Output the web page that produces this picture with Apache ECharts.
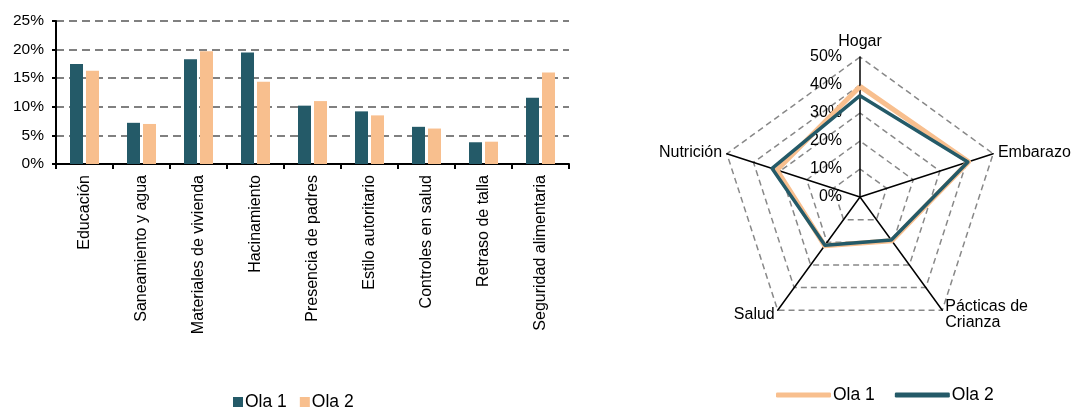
<!DOCTYPE html>
<html><head><meta charset="utf-8">
<script src="https://cdn.jsdelivr.net/npm/echarts@6/dist/echarts.min.js"></script>
<style>html,body{margin:0;padding:0;background:#fff}#c{width:1071px;height:408px}</style>
</head><body><div id="c"></div>
<script>
const categories = ['Educación','Saneamiento y agua','Materiales de vivienda','Hacinamiento','Presencia de padres','Estilo autoritario','Controles en salud','Retraso de talla','Seguridad alimentaria'];
const barOla1 = [17.5, 7.2, 18.3, 19.5, 10.2, 9.2, 6.5, 3.8, 11.6];
const barOla2 = [16.3, 7.0, 19.7, 14.4, 11.0, 8.5, 6.2, 3.9, 16.0];
const radarNames = ['Hogar', 'Nutrición', 'Salud', 'Pácticas de\nCrianza', 'Embarazo'];
const radarOla1 = [39.5, 31.2, 21.5, 19.3, 40.8];
const radarOla2 = [36.2, 33.0, 21.3, 19.0, 40.5];
const seriesNames = ['Ola 1', 'Ola 2'];

const TEAL = '#245A68', PEACH = '#F8BF8E';
const FONT = 'Liberation Sans, Arial, sans-serif';
const chart = echarts.init(document.getElementById('c'), null, {renderer: 'canvas'});
chart.setOption({
  animation: false,
  textStyle: {fontFamily: FONT, color: '#000'},
  grid: {left: 56, right: 502, top: 21, bottom: 244, containLabel: false},
  legend: [{
    left: 228, top: 388, icon: 'rect', itemWidth: 10, itemHeight: 10, itemGap: 13,
    textStyle: {fontSize: 17.5, fontFamily: FONT, color: '#000', padding: [0,0,0,-3]},
    data: [{name: seriesNames[0], itemStyle: {color: TEAL}}, {name: seriesNames[1], itemStyle: {color: PEACH}}]
  }, {
    left: 771, top: 381, icon: 'roundRect', itemWidth: 55, itemHeight: 5, itemGap: 20,
    textStyle: {fontSize: 17.5, fontFamily: FONT, color: '#000', padding: [0,0,0,-3]},
    data: [{name: seriesNames[0], itemStyle: {color: PEACH}}, {name: seriesNames[1], itemStyle: {color: TEAL}}]
  }],
  xAxis: {
    type: 'category', data: categories,
    axisLine: {lineStyle: {color: '#000', width: 2}},
    axisTick: {show: true, length: 5, lineStyle: {color: '#000', width: 2}},
    axisLabel: {rotate: 90, interval: 0, fontSize: 16, color: '#000', fontFamily: FONT, margin: 11}
  },
  yAxis: {
    type: 'value', min: 0, max: 25, interval: 5,
    axisLine: {show: true, lineStyle: {color: '#000', width: 2}},
    axisTick: {show: true, length: 4, lineStyle: {color: '#000', width: 2}},
    axisLabel: {formatter: '{value}%', fontSize: 15.5, color: '#000', fontFamily: FONT, margin: 12},
    splitLine: {lineStyle: {color: '#808080', width: 2, type: [8, 5]}}
  },
  radar: {
    center: [860, 197], radius: 140, startAngle: 90, shape: 'polygon', splitNumber: 5,
    nameGap: 5,
    axisName: {color: '#000', fontSize: 16, fontFamily: FONT},
    axisLine: {lineStyle: {color: '#000', width: 1.5}},
    splitLine: {lineStyle: {color: '#888', width: 1.5, type: [6, 4]}},
    splitArea: {show: false},
    axisLabel: {show: false},
    indicator: radarNames.map((n, i) => i === 0
      ? {name: n, min: 0, max: 50, axisLabel: {show: true, formatter: '{value}%', fontSize: 16, color: '#000', fontFamily: FONT, margin: 18}}
      : {name: n, min: 0, max: 50})
  },
  series: [
    {name: seriesNames[0], type: 'bar', data: barOla1, barWidth: 13, barGap: '23%', itemStyle: {color: TEAL}},
    {name: seriesNames[1], type: 'bar', data: barOla2, barWidth: 13, barGap: '23%', itemStyle: {color: PEACH}},
    {type: 'radar', symbol: 'none', data: [
      {name: seriesNames[0], value: radarOla1, lineStyle: {color: PEACH, width: 5}, itemStyle: {color: PEACH}},
      {name: seriesNames[1], value: radarOla2, lineStyle: {color: TEAL, width: 3.5}, itemStyle: {color: TEAL}}
    ]}
  ]
});
</script></body></html>
